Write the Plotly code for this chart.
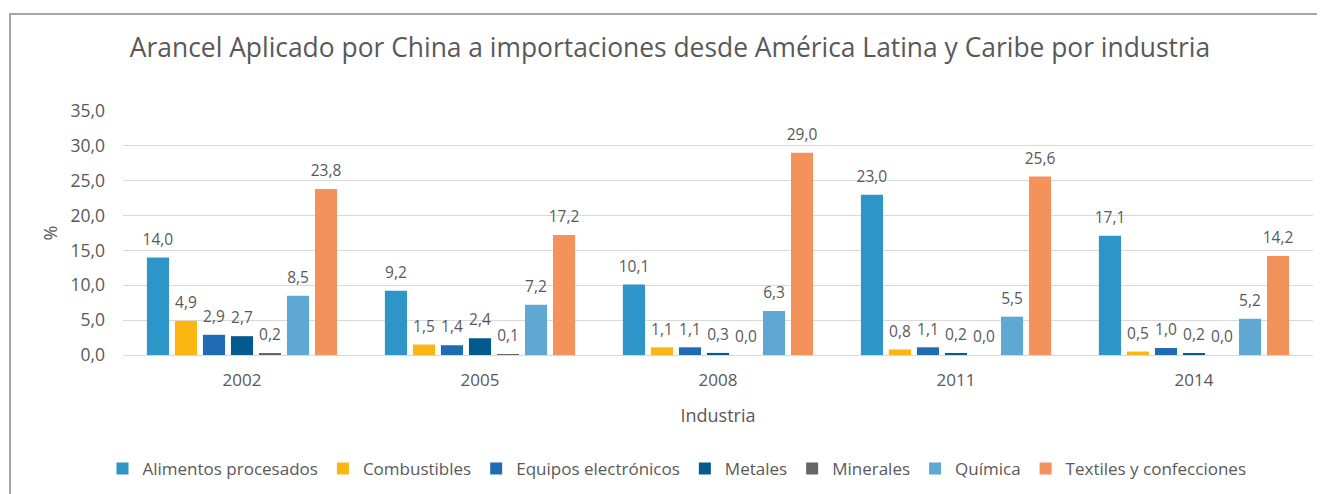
import plotly.graph_objects as go

years = ["2002", "2005", "2008", "2011", "2014"]
series_names = ["Alimentos procesados", "Combustibles", "Equipos electrónicos",
                "Metales", "Minerales", "Química", "Textiles y confecciones"]
alimentos = [14.0, 9.2, 10.1, 23.0, 17.1]
combustibles = [4.9, 1.5, 1.1, 0.8, 0.5]
equipos = [2.9, 1.4, 1.1, 1.1, 1.0]
metales = [2.7, 2.4, 0.3, 0.2, 0.2]
minerales = [0.2, 0.1, 0.0, 0.0, 0.0]
quimica = [8.5, 7.2, 6.3, 5.5, 5.2]
textiles = [23.8, 17.2, 29.0, 25.6, 14.2]
y_ticks = [0, 5, 10, 15, 20, 25, 30, 35]

values = [alimentos, combustibles, equipos, metales, minerales, quimica, textiles]
colors = ["#2E95C8", "#FBB614", "#1F6BB4", "#025A8F", "#666666", "#5FA8D3", "#F3925B"]

FONT = "Open Sans"
GRAY = "#595959"

W, H = 1317, 486
L, T, R, B = 115, 103, 12, 139
PW, PH = W - L - R, H - T - B

fig = go.Figure()
for name, vals, col in zip(series_names, values, colors):
    fig.add_trace(go.Bar(
        name=name, x=years, y=vals, marker=dict(color=col, line=dict(width=0)),
        texttemplate="<span style='font-size:15.5px'>%{y:.1f}</span><br> ",
        textposition="outside", cliponaxis=False, constraintext="none", textangle=0,
        textfont=dict(family=FONT, size=6, color=GRAY),
    ))

fig.update_layout(
    width=W, height=H,
    paper_bgcolor="white", plot_bgcolor="white",
    separators=",.",
    barmode="group", bargap=0.176, bargroupgap=0.21,
    margin=dict(l=L, r=R, t=T, b=B, autoexpand=False),
    font=dict(family=FONT, color=GRAY),
    title=dict(text="Arancel Aplicado por China a importaciones desde América Latina y Caribe por industria",
               x=662 / W, xanchor="center", y=1 - 40 / H, yanchor="middle",
               font=dict(family=FONT, size=26.4, color=GRAY)),
    xaxis=dict(title=dict(text="Industria", font=dict(size=18, color=GRAY), standoff=18),
               tickfont=dict(size=17, color=GRAY), showline=True, linecolor="#d9d9d9",
               ticks="", ticklabelstandoff=10, automargin=False),
    yaxis=dict(title=dict(text="%", font=dict(size=18, color=GRAY), standoff=8),
               range=[0, 35], tickvals=y_ticks, tickformat=".1f",
               tickfont=dict(size=17.5, color=GRAY), gridcolor="#d9d9d9", gridwidth=1,
               zeroline=False, ticks="", ticklabelstandoff=17, automargin=False),
    legend=dict(orientation="h", x=(669 - L) / PW, xanchor="center",
                y=(T + PH - 461) / PH, yanchor="middle",
                font=dict(size=17, color=GRAY), itemwidth=30, traceorder="normal"),
    shapes=[dict(type="rect", xref="paper", yref="paper",
                 x0=(2 - L) / PW, x1=(1330 - L) / PW,
                 y0=(T + PH - 520) / PH, y1=(T + PH - 6) / PH,
                 line=dict(color="#A6A6A6", width=2), layer="below")],
)

fig.write_html("out.html")
